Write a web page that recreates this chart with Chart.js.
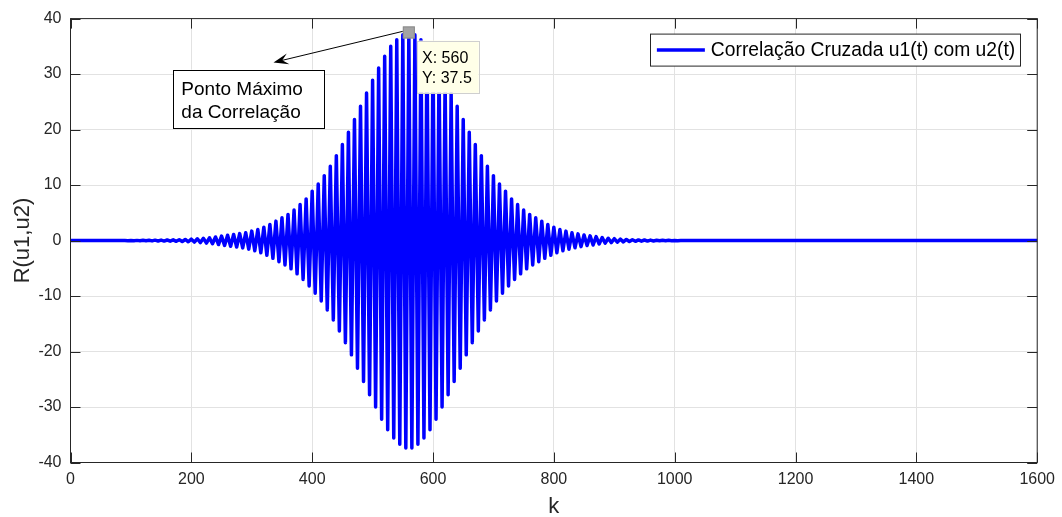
<!DOCTYPE html>
<html><head><meta charset="utf-8">
<script src="https://cdn.jsdelivr.net/npm/chart.js@4.4.0/dist/chart.umd.min.js"></script>
<style>html,body{margin:0;padding:0;background:#fff;}#wrap{width:1062px;height:517px;}</style>
</head><body><div id="wrap"><canvas id="c" width="1062" height="517"></canvas></div>
<script>
// ---- data ----
const seriesLabel = 'Correlação Cruzada u1(t) com u2(t)';
const xTitle = 'k';
const yTitle = 'R(u1,u2)';
const xTickValues = [0, 200, 400, 600, 800, 1000, 1200, 1400, 1600];
const yTickValues = [-40, -30, -20, -10, 0, 10, 20, 30, 40];
// alternating peaks of the oscillation, one every 5 lags
const peakLagStart = 80;
const peakLagStep = 5;
const risingPeaks = [
  0, -0.01, 0.01, -0.015, 0.02, -0.025, 0.03, -0.035, 0.04, -0.045,
  0.05, -0.06, 0.07, -0.075, 0.08, -0.09, 0.1, -0.11, 0.13, -0.14,
  0.16, -0.18, 0.2, -0.22, 0.25, -0.28, 0.32, -0.36, 0.4, -0.45,
  0.5, -0.57, 0.65, -0.72, 0.8, -0.88, 0.95, -1.02, 1.1, -1.17,
  1.25, -1.32, 1.4, -1.55, 1.7, -1.85, 2.0, -2.2, 2.4, -2.65,
  2.9, -3.2, 3.5, -3.8, 4.1, -4.4, 4.7, -5.1, 5.5, -6.0,
  6.5, -7.0, 7.5, -8.2, 8.9, -9.5, 10.2, -10.9, 11.7, -12.5,
  13.4, -14.3, 15.3, -16.3, 17.3, -18.4, 19.5, -20.6, 21.8, -23.0,
  24.2, -25.4, 26.6, -27.8, 28.9, -30.0, 31.1, -32.2, 33.2, -34.1,
  35.0, -35.6, 36.2, -36.7, 37.1, -37.4
];
const centerPeak = [37.5];
const decayingPeaks = [
  -37.4, 37.1, -36.7, 36.2, -35.6, 35.0, -34.1, 33.2, -32.2, 31.1,
  -30.0, 28.9, -27.8, 26.6, -25.4, 24.2, -23.0, 21.8, -20.6, 19.5,
  -18.4, 17.3, -16.3, 15.3, -14.3, 13.4, -12.5, 11.7, -10.9, 10.2,
  -9.5, 8.9, -8.2, 7.5, -7.0, 6.5, -6.0, 5.5, -5.1, 4.7,
  -4.4, 4.1, -3.8, 3.5, -3.2, 2.9, -2.65, 2.4, -2.2, 2.0,
  -1.85, 1.7, -1.55, 1.4, -1.3, 1.2, -1.1, 1.0, -0.9, 0.85,
  -0.8, 0.7, -0.62, 0.55, -0.48, 0.42, -0.37, 0.33, -0.29, 0.26,
  -0.23, 0.2, -0.18, 0.16, -0.14, 0.12, -0.11, 0.1, -0.09, 0.08,
  -0.07, 0.06, -0.05, 0.045, -0.04, 0.035, -0.03, 0.025, -0.02, 0.015,
  -0.01, 0.01, -0.005, 0, 0, 0
];
const flatStart = {x: 0, y: 0};
const flatEnd = {x: 1600, y: 0};
const maxPoint = {x: 560, y: 37.5};
const calloutLines = ['Ponto Máximo', 'da Correlação'];
const arrowTail = {x: 549.8, y: 37.7};
const arrowHead = {x: 336, y: 32.1};
const calloutBox = {x0: 169.6, x1: 419.5, y0: 30.8, y1: 20.3};

// ---- build ----
const peaks = risingPeaks.concat(centerPeak, decayingPeaks);
const points = [flatStart].concat(
  peaks.map((v, i) => ({x: peakLagStart + i * peakLagStep, y: v})),
  [flatEnd]
);

const FONT = "'Liberation Sans', Arial, Helvetica, sans-serif";
const AX = '#262626';

const overlay = {
  id: 'overlay',
  afterDraw(chart) {
    const ctx = chart.ctx;
    const a = chart.chartArea;
    const xs = chart.scales.x, ys = chart.scales.y;
    ctx.save();
    // frame
    ctx.strokeStyle = AX; ctx.lineWidth = 1;
    ctx.strokeRect(a.left, a.top, a.right - a.left, a.bottom - a.top);
    // inward ticks
    ctx.beginPath();
    xTickValues.forEach(v => {
      const px = Math.round(xs.getPixelForValue(v)) + 0.5;
      ctx.moveTo(px, a.bottom); ctx.lineTo(px, a.bottom - 10);
      ctx.moveTo(px, a.top); ctx.lineTo(px, a.top + 10);
    });
    yTickValues.forEach(v => {
      const py = Math.round(ys.getPixelForValue(v)) + 0.5;
      ctx.moveTo(a.left, py); ctx.lineTo(a.left + 10, py);
      ctx.moveTo(a.right, py); ctx.lineTo(a.right - 10, py);
    });
    ctx.stroke();

    // legend
    const ds = chart.data.datasets[0];
    ctx.font = '19.3px ' + FONT;
    const tw = ctx.measureText(ds.label).width;
    const bx1 = a.right - 17, by0 = a.top + 15.5, bh = 32;
    const bx0 = bx1 - (tw + 66);
    ctx.fillStyle = '#fff';
    ctx.fillRect(bx0, by0, bx1 - bx0, bh);
    ctx.strokeStyle = AX; ctx.lineWidth = 1;
    ctx.strokeRect(Math.round(bx0) + 0.5, by0, Math.round(bx1 - bx0), bh);
    ctx.strokeStyle = ds.borderColor; ctx.lineWidth = 3.5;
    ctx.beginPath(); ctx.moveTo(bx0 + 7, by0 + bh / 2); ctx.lineTo(bx0 + 55, by0 + bh / 2); ctx.stroke();
    ctx.fillStyle = '#000'; ctx.textBaseline = 'middle'; ctx.textAlign = 'left';
    ctx.fillText(ds.label, bx0 + 61, by0 + bh / 2 + 1);

    // callout box
    const cx0 = xs.getPixelForValue(calloutBox.x0), cx1 = xs.getPixelForValue(calloutBox.x1);
    const cy0 = ys.getPixelForValue(calloutBox.y0), cy1 = ys.getPixelForValue(calloutBox.y1);
    ctx.fillStyle = '#fff';
    ctx.fillRect(cx0, cy0, cx1 - cx0, cy1 - cy0);
    ctx.strokeStyle = '#000'; ctx.lineWidth = 1;
    ctx.strokeRect(Math.round(cx0) + 0.5, Math.round(cy0) + 0.5, Math.round(cx1 - cx0), Math.round(cy1 - cy0));
    ctx.fillStyle = '#000'; ctx.textBaseline = 'alphabetic';
    ctx.font = '19px ' + FONT;
    ctx.fillText(calloutLines[0], cx0 + 8.4, cy0 + 25);
    ctx.fillText(calloutLines[1], cx0 + 8.4, cy0 + 48.3);

    // data tip marker
    const mx = xs.getPixelForValue(maxPoint.x), my = ys.getPixelForValue(maxPoint.y);
    ctx.fillStyle = '#a3a3a3';
    ctx.fillRect(mx - 6, my - 6, 12, 12);
    ctx.strokeStyle = '#8c8c8c'; ctx.lineWidth = 1;
    ctx.strokeRect(mx - 5.5, my - 5.5, 11, 11);

    // arrow
    const tx = xs.getPixelForValue(arrowTail.x), ty = ys.getPixelForValue(arrowTail.y);
    const hx = xs.getPixelForValue(arrowHead.x), hy = ys.getPixelForValue(arrowHead.y);
    const dx = hx - tx, dy = hy - ty, len = Math.hypot(dx, dy);
    const ux = dx / len, uy = dy / len, nx = -uy, ny = ux;
    const L = 15, W = 5.5;
    ctx.strokeStyle = '#000'; ctx.lineWidth = 1;
    ctx.beginPath(); ctx.moveTo(tx, ty); ctx.lineTo(hx - ux * 8, hy - uy * 8); ctx.stroke();
    ctx.fillStyle = '#000';
    ctx.beginPath();
    ctx.moveTo(hx, hy);
    ctx.lineTo(hx - ux * L + nx * W, hy - uy * L + ny * W);
    ctx.lineTo(hx - ux * L * 0.6, hy - uy * L * 0.6);
    ctx.lineTo(hx - ux * L - nx * W, hy - uy * L - ny * W);
    ctx.closePath(); ctx.fill();

    // data tip box
    const dbx = mx + 8.2, dby = my + 8.1, dbw = 61.6, dbh = 52.3;
    ctx.fillStyle = '#ffffe8';
    ctx.fillRect(dbx, dby, dbw, dbh);
    ctx.strokeStyle = '#cfcfcf'; ctx.lineWidth = 1;
    ctx.strokeRect(Math.round(dbx) + 0.5, Math.round(dby) + 0.5, Math.round(dbw), Math.round(dbh));
    ctx.fillStyle = '#000'; ctx.font = '16px ' + FONT; ctx.textBaseline = 'alphabetic';
    ctx.fillText('X: ' + maxPoint.x, dbx + 5, dby + 22.3);
    ctx.fillText('Y: ' + maxPoint.y, dbx + 5, dby + 42.7);
    ctx.restore();
  }
};

new Chart(document.getElementById('c').getContext('2d'), {
  type: 'line',
  data: {datasets: [{
    label: seriesLabel, data: points, borderColor: '#0000ff', borderWidth: 3.5,
    pointRadius: 0, tension: 0, fill: false, borderJoinStyle: 'round', borderCapStyle: 'round'
  }]},
  options: {
    responsive: false, animation: false, parsing: false, normalized: true,
    layout: {padding: {left: 0, right: 23.5, top: 18, bottom: 0}},
    plugins: {legend: {display: false}, tooltip: {enabled: false}},
    scales: {
      x: {
        type: 'linear', min: 0, max: 1600,
        afterBuildTicks: s => { s.ticks = xTickValues.map(v => ({value: v})); },
        afterFit: s => { s.height = 54.5; },
        ticks: {color: AX, font: {size: 16, family: FONT}, padding: 7, maxRotation: 0, autoSkip: false,
                callback: v => String(v)},
        grid: {color: '#e2e2e2', drawTicks: false, lineWidth: 1},
        border: {display: false},
        title: {display: true, text: xTitle, color: AX, font: {size: 22, family: FONT}, padding: {top: 0, bottom: -3}}
      },
      y: {
        type: 'linear', min: -40, max: 40,
        afterBuildTicks: s => { s.ticks = yTickValues.map(v => ({value: v})); },
        afterFit: s => { s.width = 70.5; },
        ticks: {color: AX, font: {size: 16, family: FONT}, padding: 9, autoSkip: false,
                callback: v => String(v)},
        grid: {color: '#e2e2e2', drawTicks: false, lineWidth: 1},
        border: {display: false},
        title: {display: true, text: yTitle, color: AX, font: {size: 22, family: FONT}, padding: {top: 10, bottom: 0}}
      }
    }
  },
  plugins: [overlay]
});
</script></body></html>
